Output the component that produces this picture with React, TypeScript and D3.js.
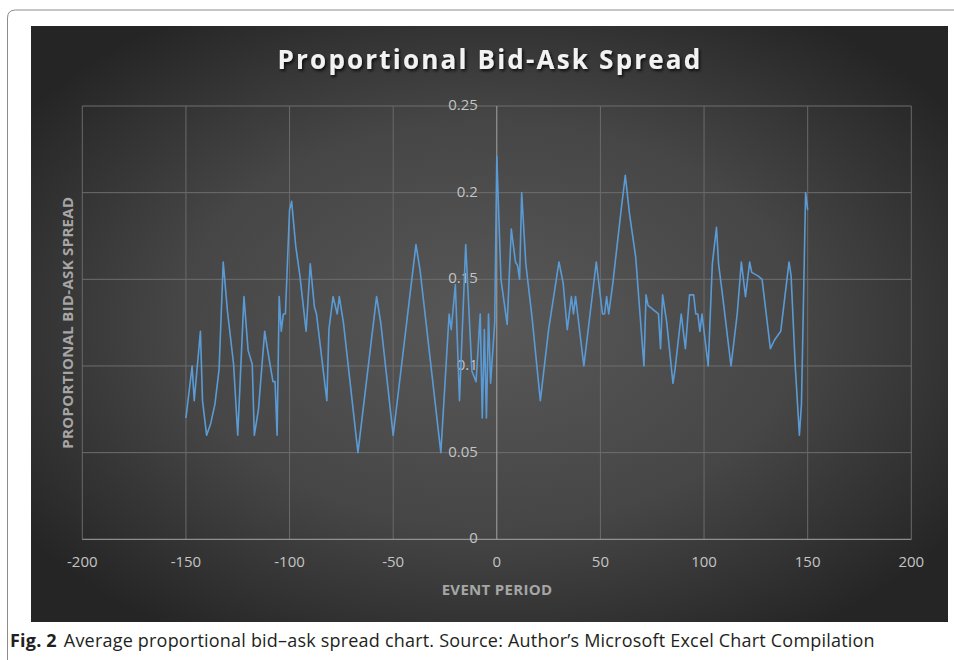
import * as d3 from "d3";

// event period (days) and proportional bid-ask spread, read at each turning point
const periods = [
  -150, -147, -146, -143, -142, -140, -138, -136, -134, -132, -130, -127, -125, -122, -120, -118,
  -117, -115, -114, -112, -110, -108, -107, -106, -105, -104, -103, -102, -100, -99, -97, -95,
  -92, -90, -88, -87, -82, -81, -79, -77, -76, -74, -67, -58, -56, -50, -39, -37,
  -27, -23, -22, -20, -18, -15, -12, -10, -8, -7, -6, -5, -4, -3, -1, 0,
  2, 5, 7, 9, 10, 11, 12, 14, 17, 21, 25, 30, 32, 34, 36, 37,
  38, 39, 42, 48, 51, 52, 53, 54, 56, 58, 60, 62, 64, 67, 71, 72,
  73, 75, 78, 79, 80, 82, 85, 86, 89, 91, 93, 95, 96, 97, 98, 99,
  102, 104, 106, 107, 109, 113, 116, 118, 120, 122, 123, 126, 128, 130, 132, 134,
  137, 141, 142, 144, 146, 147, 149, 150,
];
const spreads = [
  0.07, 0.1, 0.08, 0.12, 0.08, 0.06, 0.067, 0.078, 0.098, 0.16, 0.132, 0.101, 0.06, 0.14, 0.109, 0.101,
  0.06, 0.075, 0.09, 0.12, 0.105, 0.091, 0.091, 0.06, 0.14, 0.12, 0.13, 0.13, 0.19, 0.195, 0.169, 0.152,
  0.12, 0.159, 0.134, 0.13, 0.08, 0.121, 0.14, 0.13, 0.14, 0.125, 0.05, 0.14, 0.125, 0.06, 0.17, 0.155,
  0.05, 0.13, 0.121, 0.147, 0.08, 0.17, 0.097, 0.091, 0.13, 0.07, 0.121, 0.07, 0.13, 0.09, 0.125, 0.221,
  0.15, 0.124, 0.179, 0.16, 0.158, 0.15, 0.2, 0.159, 0.128, 0.08, 0.121, 0.16, 0.148, 0.121, 0.14, 0.13,
  0.14, 0.13, 0.1, 0.16, 0.13, 0.13, 0.14, 0.13, 0.148, 0.169, 0.19, 0.21, 0.188, 0.163, 0.1, 0.141,
  0.135, 0.133, 0.13, 0.11, 0.141, 0.125, 0.09, 0.098, 0.13, 0.11, 0.141, 0.141, 0.13, 0.13, 0.12, 0.13,
  0.1, 0.159, 0.18, 0.159, 0.14, 0.1, 0.13, 0.16, 0.14, 0.16, 0.154, 0.152, 0.15, 0.13, 0.11, 0.115,
  0.12, 0.16, 0.152, 0.1, 0.06, 0.078, 0.2, 0.19,
];
const xTicks = [-200, -150, -100, -50, 0, 50, 100, 150, 200];
const yTicks = [0, 0.05, 0.1, 0.15, 0.2, 0.25];

const W = 954;
const H = 660;

export default function App() {
  const x = d3.scaleLinear().domain([-200, 200]).range([82.3, 911.3]);
  const y = d3.scaleLinear().domain([0, 0.25]).range([539.3, 106]);

  const pts = periods.map((p, i) => [p, spreads[i]] as [number, number]);
  const line = d3
    .line<[number, number]>()
    .x((d) => x(d[0]))
    .y((d) => y(d[1]));

  const tickFont = "'Open Sans', 'DejaVu Sans', sans-serif";

  return (
    <svg
      width={W}
      height={H}
      viewBox={`0 0 ${W} ${H}`}
      style={{ position: "absolute", left: 0, top: 0, background: "#fff" }}
    >
      <defs>
        <radialGradient id="bg" cx="50%" cy="50%" r="62%">
          <stop offset="0%" stopColor="#585858" />
          <stop offset="55%" stopColor="#464646" />
          <stop offset="100%" stopColor="#252525" />
        </radialGradient>
        <filter id="shadow" x="-10%" y="-30%" width="120%" height="160%">
          <feDropShadow dx="1.5" dy="2" stdDeviation="1.5" floodColor="#000" floodOpacity="0.8" />
        </filter>
      </defs>

      {/* figure frame */}
      <path d="M7.5,660 L7.5,18 Q7.5,10 15.5,10 L954,10" fill="none" stroke="#8c8c8c" strokeWidth={1} />

      {/* chart area */}
      <rect x={31} y={26} width={917} height={596} fill="url(#bg)" />

      {/* gridlines */}
      {yTicks.slice(1).map((t) => (
        <line key={"gy" + t} x1={x(-200)} x2={x(200)} y1={y(t)} y2={y(t)} stroke="#6e6e6e" strokeWidth={1} />
      ))}
      {xTicks.filter((t) => t !== 0).map((t) => (
        <line key={"gx" + t} x1={x(t)} x2={x(t)} y1={y(0.25)} y2={y(0)} stroke="#6a6a6a" strokeWidth={1} />
      ))}

      {/* axes */}
      <line x1={x(-200)} x2={x(200)} y1={y(0)} y2={y(0)} stroke="#a6a6a6" strokeWidth={1} />
      <line x1={x(0)} x2={x(0)} y1={y(0.25)} y2={y(0)} stroke="#a6a6a6" strokeWidth={1} />

      {/* y tick labels */}
      {yTicks.map((t) => (
        <text
          key={"ty" + t}
          x={x(0) - 19}
          y={y(t)}
          textAnchor="end"
          dominantBaseline="middle"
          fontFamily={tickFont}
          fontSize={15}
          fill="#c4c4c4"
        >
          {t === 0 ? "0" : String(t)}
        </text>
      ))}

      {/* x tick labels */}
      {xTicks.map((t) => (
        <text
          key={"tx" + t}
          x={x(t)}
          y={563}
          textAnchor="middle"
          dominantBaseline="middle"
          fontFamily={tickFont}
          fontSize={15}
          fill="#c4c4c4"
        >
          {t}
        </text>
      ))}

      {/* series */}
      <path d={line(pts) || ""} fill="none" stroke="#5b9bd5" strokeWidth={1.6} strokeLinejoin="round" />

      {/* titles */}
      <text
        x={490}
        y={62}
        textAnchor="middle"
        dominantBaseline="middle"
        fontFamily={tickFont}
        fontWeight="bold"
        fontSize={26}
        letterSpacing={2.2}
        fill="#f2f2f2"
        filter="url(#shadow)"
      >
        Proportional Bid-Ask Spread
      </text>
      <text
        x={497}
        y={591}
        textAnchor="middle"
        dominantBaseline="middle"
        fontFamily={tickFont}
        fontWeight="bold"
        fontSize={15}
        letterSpacing={0.3}
        fill="#a6a6a6"
      >
        EVENT PERIOD
      </text>
      <text
        transform={`translate(69,${(y(0) + y(0.25)) / 2}) rotate(-90)`}
        textAnchor="middle"
        dominantBaseline="middle"
        fontFamily={tickFont}
        fontWeight="bold"
        fontSize={15}
        letterSpacing={0.3}
        fill="#a6a6a6"
      >
        PROPORTIONAL BID-ASK SPREAD
      </text>

      {/* caption */}
      <text x={10} y={647} fontFamily={tickFont} fontSize={18} letterSpacing={0.2} fill="#231f20">
        <tspan fontWeight="bold">Fig. 2</tspan>
        <tspan dx={7}>Average proportional bid–ask spread chart. Source: Author’s Microsoft Excel Chart Compilation</tspan>
      </text>
    </svg>
  );
}
